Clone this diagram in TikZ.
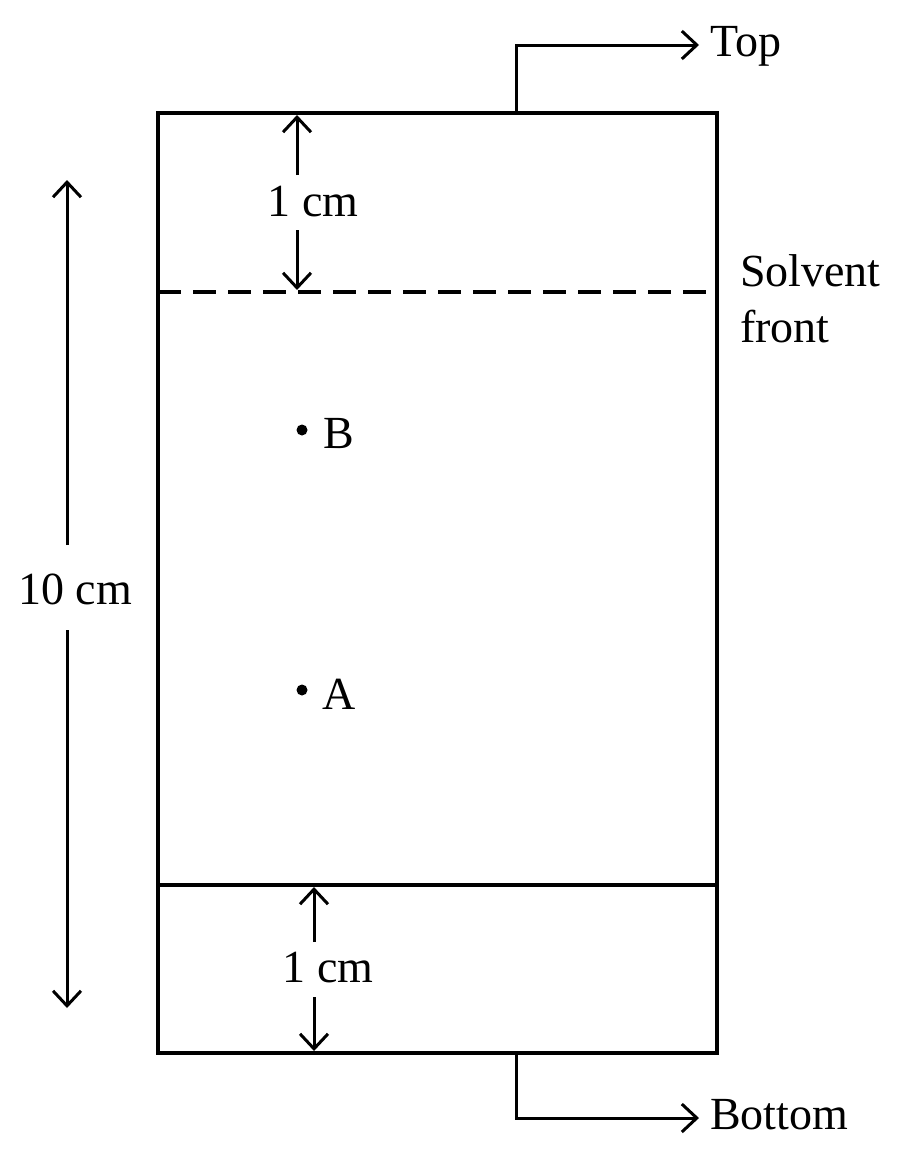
\documentclass[tikz,border=0pt]{standalone}
\usepackage{fontspec}
\setmainfont{Liberation Serif}
\usetikzlibrary{arrows.meta}
\begin{document}
\begin{tikzpicture}[x=1pt,y=-1pt,
  box/.style={line width=3.4pt},
  arr/.style={line width=3pt,-{Straight Barb[length=15pt,width=28pt,line width=3pt]}},
  lbl/.style={font=\fontsize{46}{56}\selectfont,inner sep=0pt},
  spot/.style={circle,fill=black,inner sep=0pt,minimum size=11pt}]
\useasboundingbox (0,0) rectangle (900,1159);
% plate
\draw[box] (158,113) rectangle (717,1053);
\draw[box] (158,885) -- (717,885);
\draw[box,dash pattern=on 23pt off 12pt] (158,292) -- (717,292);
% coordinates
\coordinate (topout) at (516,113);
\coordinate (topbend) at (516,45);
\coordinate (topend) at (699,45);
\coordinate (botout) at (516,1053);
\coordinate (botbend) at (516,1118);
\coordinate (botend) at (699,1118);
% Top / Bottom
\node[lbl,anchor=west] (toplbl) at (710,46) {Top};
\node[lbl,anchor=west] (botlbl) at (710,1115) {Bottom};
\draw[arr] (topout) -- (topbend) -- (topend);
\draw[arr] (botout) -- (botbend) -- (botend);
% upper 1 cm
\coordinate (u1) at (297,115);
\coordinate (u2) at (297,290);
\coordinate (u1s) at (297,175);
\coordinate (u2s) at (297,230);
\node[lbl] (onecmA) at (313,202) {1 cm};
\draw[arr] (u1s) -- (u1);
\draw[arr] (u2s) -- (u2);
% lower 1 cm
\coordinate (l1) at (314,887);
\coordinate (l1s) at (314,942);
\coordinate (l2) at (314,1051);
\coordinate (l2s) at (314,997);
\node[lbl] (onecmB) at (328,968) {1 cm};
\draw[arr] (l1s) -- (l1);
\draw[arr] (l2s) -- (l2);
% 10 cm
\coordinate (t1) at (67,180);
\coordinate (t1s) at (67,545);
\coordinate (t2) at (67,1008);
\coordinate (t2s) at (67,630);
\node[lbl] (tencm) at (75,589) {10 cm};
\draw[arr] (t1s) -- (t1);
\draw[arr] (t2s) -- (t2);
% spots
\node[spot] (B) at (302,430) {};
\node[lbl,anchor=west] (Blbl) at (323,434) {B};
\node[spot] (A) at (302,690) {};
\node[lbl,anchor=west] (Albl) at (322,694) {A};
% solvent front
\node[lbl,anchor=north west,align=left] (sf) at (740,254) {Solvent\\front};
\end{tikzpicture}
\end{document}
